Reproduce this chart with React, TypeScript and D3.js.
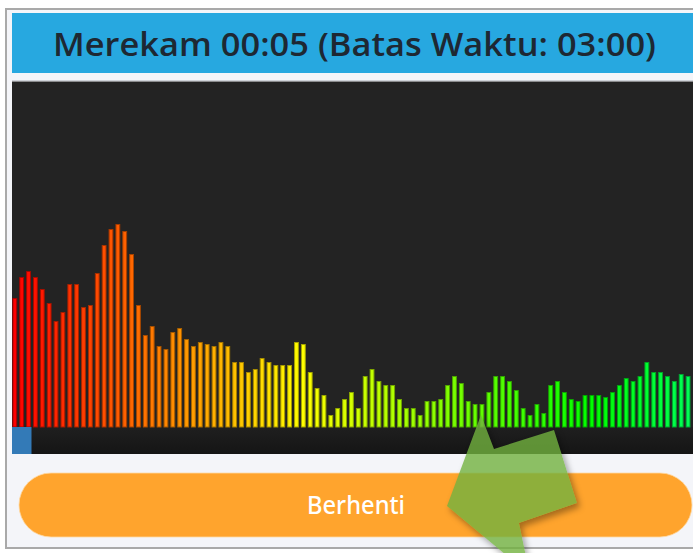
import React from 'react';
import * as d3 from 'd3';

const W = 693;
const H = 553;

const titleText = 'Merekam 00:05 (Batas Waktu: 03:00)';
const buttonText = 'Berhenti';
const elapsedSec = 5;
const limitSec = 180;

// spectrum levels, left to right
const levels = [
  129, 150, 156, 150, 138, 124, 106, 115, 143, 143, 120, 122, 154, 182, 198, 203, 196, 173, 122, 92,
  101, 81, 78, 95, 99, 88, 81, 85, 83, 81, 85, 81, 65, 65, 55, 58, 69, 65, 62, 62,
  62, 85, 83, 55, 39, 32, 12, 19, 28, 35, 19, 51, 58, 46, 42, 42, 28, 19, 19, 12,
  26, 26, 28, 42, 51, 44, 26, 23, 23, 35, 51, 51, 46, 37, 19, 12, 23, 14, 42, 46,
  35, 28, 26, 32, 32, 32, 30, 35, 42, 49, 46, 51, 65, 55, 55, 51, 46, 53, 51,
];

// pointer arrow outline
const arrow: [number, number][] = [
  [481, 415], [494, 449], [554, 430], [577, 503], [519, 523], [530, 575], [447, 506],
];

const panel = { x0: 12, x1: 714, top: 82, base: 427, bottom: 454 };

export default function App() {
  const step = 6.87;
  const x = d3.scaleBand<number>()
    .domain(levels.map((_, i) => i))
    .range([12.4, 12.4 + step * (levels.length - 0.3)])
    .paddingInner(0.3)
    .paddingOuter(0);

  const y = d3.scaleLinear().domain([0, panel.base - panel.top]).range([panel.base, panel.top]);
  const hue = d3.scaleLinear().domain([0, levels.length - 1]).range([0, 140]);
  const prog = d3.scaleLinear().domain([0, limitSec]).range([panel.x0, panel.x1]);
  const arrowPath = d3.line()(arrow) + 'Z';

  return (
    <svg width={W} height={H} style={{ position: 'absolute', left: 0, top: 0 }}>
      <defs>
        <linearGradient id="strip" x1="0" y1="0" x2="0" y2="1">
          <stop offset="0" stopColor="#1f1f1f" />
          <stop offset="1" stopColor="#151515" />
        </linearGradient>
        <filter id="blur" x="-20%" y="-20%" width="150%" height="150%">
          <feGaussianBlur stdDeviation="3" />
        </filter>
        <mask id="notArrow">
          <rect width={W} height={H} fill="#fff" />
          <path d={arrowPath} fill="#000" />
        </mask>
        <clipPath id="pclip">
          <rect x={panel.x0} y={panel.top} width={panel.x1 - panel.x0} height={panel.bottom - panel.top} />
        </clipPath>
      </defs>
      <rect width={W} height={H} fill="#ffffff" />
      <rect x={6} y={9} width={W} height={539} fill="#f4f5f9" stroke="#a9a9a9" strokeWidth={2} />
      <rect x={12} y={13} width={W} height={60} fill="#27a8e0" />
      <text
        x={354.5}
        y={56}
        textAnchor="middle"
        fontFamily="Open Sans"
        fontWeight={600}
        fontSize={33}
        fill="#1e2833"
        textLength={603}
        lengthAdjust="spacingAndGlyphs"
      >
        {titleText}
      </text>
      <line x1={12} x2={W} y1={80.5} y2={80.5} stroke="#cfd2d8" />
      <rect x={panel.x0} y={panel.top - 0.5} width={panel.x1 - panel.x0} height={panel.base - panel.top + 0.5} fill="#232323" />
      <rect x={panel.x0} y={panel.base} width={panel.x1 - panel.x0} height={panel.bottom - panel.base} fill="url(#strip)" />
      <g clipPath="url(#pclip)">
        {levels.map((v, i) => {
          const c = d3.hsl(hue(i), 1, 0.5);
          return (
            <rect
              key={i}
              x={x(i)! + 0.5}
              y={y(v) + 0.5}
              width={x.bandwidth() - 1}
              height={panel.base - y(v) - 0.5}
              fill={c.toString()}
              stroke={c.darker(1.2).toString()}
              strokeWidth={1}
            />
          );
        })}
        <rect x={panel.x0} y={panel.base} width={prog(elapsedSec) - panel.x0} height={panel.bottom - panel.base} fill="#337ab7" />
      </g>
      <rect x={19} y={473} width={673} height={64} rx={32} fill="#ffa42d" stroke="#ffd9a3" strokeWidth={0.8} />
      <text
        x={356}
        y={514}
        textAnchor="middle"
        fontFamily="Noto Sans"
        fontWeight={500}
        fontSize={25}
        fill="#ffffff"
        textLength={98}
        lengthAdjust="spacingAndGlyphs"
      >
        {buttonText}
      </text>
      <g mask="url(#notArrow)">
        <path d={arrowPath} transform="translate(3,4)" fill="#000" fillOpacity={0.35} filter="url(#blur)" />
      </g>
      <path d={arrowPath} fill="#72b23e" fillOpacity={0.8} />
    </svg>
  );
}
